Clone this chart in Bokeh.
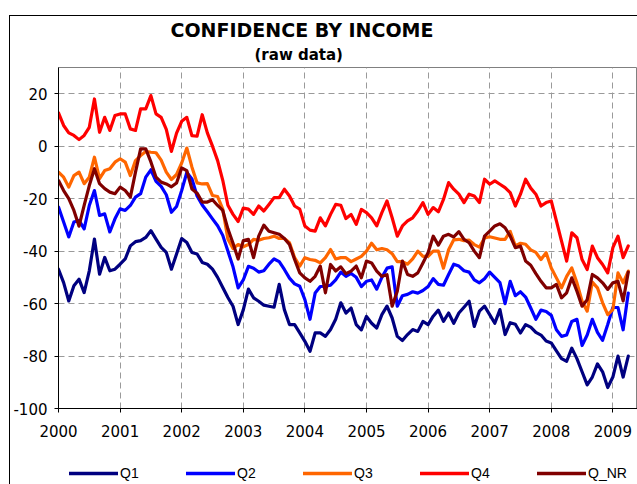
from bokeh.plotting import figure
from bokeh.layouts import column
from bokeh.models import Range1d, Legend, LegendItem, FixedTicker, Title, PrintfTickFormatter
from bokeh.embed import file_html
from bokeh.resources import INLINE

# ---- data (monthly, Jan 2000 .. Apr 2009) ----
months = [2000 + i / 12 for i in range(112)]

q1 = [-46.9, -52, -59, -53.2, -50.7, -55.8, -47.5, -35.4, -48.8, -42.4, -47.5, -46.9,
      -45, -43, -38, -36.4, -36, -34.8, -32.2, -35.4, -38.6, -40.5, -46.9, -41.1,
      -35.2, -36.7, -40.5, -41.1, -44.3, -45, -46.9, -50, -53.9, -57.7, -61, -68,
      -62.4, -54.5, -57.8, -59.1, -60.6, -61, -61.4, -52.7, -62.3, -68, -68, -71.2,
      -74.4, -78.2, -71.2, -71.2, -72.5, -69.9, -66, -59.7, -63.6, -61.7, -68, -70,
      -64.9, -67.5, -69.3, -64.2, -61, -65.5, -72.5, -74.1, -71.8, -69.9, -70.6, -66.8,
      -68, -64.8, -62.5, -66.8, -63.6, -67.5, -63.6, -61.4, -59.1, -68.7, -62.9, -61,
      -64.2, -67.5, -62.3, -71.8, -67.3, -67.9, -71.2, -68, -69, -71, -72, -74.3,
      -75, -78, -81, -82, -77, -81, -86, -91, -88, -83, -86, -92,
      -88, -80, -88, -80]

q2 = [-23.2, -28.9, -34.6, -28.9, -28.3, -31.5, -22.6, -16.9, -26.4, -25.8, -32.7, -27.7,
      -23.9, -24.5, -22.6, -19.4, -18.1, -11.8, -9, -13.4, -15.3, -18.5, -25.2, -23,
      -16.9, -10, -12.5, -19, -22.4, -25, -27.7, -30.3, -34, -40, -46, -54,
      -51, -45.8, -46.5, -48, -47.5, -45, -43, -44, -47, -50.3, -52.5, -53.4,
      -58.5, -66, -56, -53.5, -53.4, -53, -51, -48, -49.6, -48.5, -50, -53.5,
      -51.5, -51, -54.5, -50, -46.5, -46, -61, -57, -56.5, -55.5, -56, -55,
      -53.5, -50.5, -52.7, -53, -48.9, -45, -45.7, -47.5, -48, -51, -52.1, -50.5,
      -48, -50, -52, -60, -51.5, -57, -55.5, -57.5, -61.7, -66, -62.5, -63,
      -64.5, -70, -72.5, -72, -66.8, -66, -76, -72, -66, -71, -74, -68,
      -61.5, -61.5, -70, -56]

q3 = [-9.9, -11.8, -15.6, -11.2, -9.9, -14.3, -11.8, -4.2, -12.4, -9.3, -8.6, -6.1,
      -4.8, -6.1, -11.2, -5.5, -3.6, -2, -2.3, -2.5, -5.3, -9.9, -12.7, -10.8,
      -6.4, -0.7, -8, -14, -14.4, -14.3, -18.8, -19.2, -24, -35.4, -39, -37.5,
      -38.3, -37.5, -35.5, -35.9, -35.2, -34.9, -34.3, -35.2, -35.2, -36.8, -42.5, -45.7,
      -42.5, -43.2, -43.5, -44.5, -42.5, -39.4, -43, -42.5, -42.5, -44, -43, -42,
      -40, -37, -39.5, -39, -39.5, -41, -44, -44, -45, -43, -40, -42,
      -42, -40, -40, -46.5, -39.5, -35.7, -35.5, -36, -35.8, -37.5, -38.5, -35,
      -34.5, -35, -35.5, -35.5, -32.5, -38, -37, -37.4, -39.5, -40.5, -43.2, -40.6,
      -46.4, -50.2, -54, -49.6, -46.4, -52.1, -59.1, -62.9, -51.8, -54, -59.7, -64.2,
      -62.3, -48.3, -52.1, -47.6]

q4 = [12.7, 7.9, 5.1, 4.1, 2.5, 4.1, 7.2, 18, 5.3, 11, 6, 11.7,
      12.3, 12.3, 6.6, 6, 14.2, 14.2, 19.3, 12.3, 11, 6.4, -2, 5,
      9.5, 11, 4, 3.8, 12, 5.1, 0, -5.5, -13, -22.5, -26, -28.7,
      -23.6, -24, -26, -22.8, -24.7, -22.2, -19.6, -19.6, -16.4, -19, -22.8, -24,
      -30.4, -32, -32.4, -27.3, -30.4, -26, -22.2, -22.5, -27.6, -26, -29.8, -24.1,
      -25.3, -27.3, -30.4, -25.3, -20.9, -27.3, -34.3, -30.4, -28.5, -27.3, -24.7, -21.5,
      -26, -23.4, -25, -20.3, -13.9, -16.4, -18.3, -21.5, -18.3, -19, -21.5, -12.6,
      -14.5, -13.2, -14.5, -15.8, -17.7, -22.8, -18.3, -12.6, -16, -18.3, -22.8, -21.5,
      -20.9, -28.5, -36.2, -43.8, -33, -34.9, -43.2, -47, -38.1, -42.5, -45.1, -48.3,
      -38.7, -34.3, -42.5, -38]

qnr = [-13.1, -16.9, -20, -24.5, -30.5, -22.6, -15, -8.6, -14.3, -16.2, -17.5, -18.1,
       -15.6, -16.9, -19.4, -9.9, -1, -1, -6, -11.8, -13.7, -14.4, -15.5, -14,
       -8.3, -9.3, -16.3, -17.9, -21.3, -21.3, -20.4, -22.6, -24.5, -31.5, -37, -43,
       -36, -35.5, -42.5, -34.3, -30.1, -32.4, -33, -33.6, -35.2, -37.5, -43.2, -48.3,
       -50.2, -51.5, -49.6, -45.7, -55.9, -45.1, -47.6, -46, -48.6, -47.6, -45.7, -50.2,
       -43.8, -44.5, -47.6, -49.6, -49, -61, -55.3, -43.8, -48.9, -49.6, -48.3, -44.5,
       -40.6, -34.3, -37.7, -34.3, -33.6, -34.6, -32.6, -35.5, -36.8, -40, -42.5, -34.3,
       -32.4, -30.4, -29.6, -31.1, -34.3, -38.7, -38.1, -43.8, -45.4, -48.6, -51.5, -54,
       -54, -52.7, -57.8, -55.9, -50.2, -55.3, -61, -58.5, -48.9, -50.2, -52.1, -54.6,
       -52.1, -51.5, -59, -48]

series_names = ["Q1", "Q2", "Q3", "Q4", "Q_NR"]
series_values = [q1, q2, q3, q4, qnr]
series_colors = ["#000080", "#0000FF", "#FF6600", "#FF0000", "#800000"]

year_ticks = [2000, 2001, 2002, 2003, 2004, 2005, 2006, 2007, 2008, 2009]
value_ticks = [-100, -80, -60, -40, -20, 0, 20]

title_text = "CONFIDENCE BY INCOME"
subtitle_text = "(raw data)"

FONT = "DejaVu Sans"

# ---------------- main chart ----------------
p = figure(frame_width=579, frame_height=341,
           x_range=Range1d(2000, 2009.4), y_range=Range1d(-100, 30),
           output_backend="svg", toolbar_location=None,
           min_border_left=48, min_border_right=0,
           min_border_top=50, min_border_bottom=40)
p.background_fill_color = "white"
p.border_fill_color = "white"
p.outline_line_color = "#808080"
p.outline_line_width = 1

p.xaxis.ticker = FixedTicker(ticks=year_ticks)
p.yaxis.ticker = FixedTicker(ticks=value_ticks)
p.yaxis.formatter = PrintfTickFormatter(format="%d")
p.xaxis.formatter = PrintfTickFormatter(format="%d")
for ax in (p.xaxis[0], p.yaxis[0]):
    ax.axis_line_color = "#000000"
    ax.axis_line_width = 1
    ax.major_tick_line_color = "#000000"
    ax.major_tick_in = 0
    ax.major_tick_out = 4
    ax.minor_tick_line_color = None
    ax.major_label_text_font = FONT
    ax.major_label_text_font_size = "15px"
    ax.major_label_text_color = "#000000"
p.xaxis.major_label_standoff = 12
p.yaxis.major_label_standoff = 7

p.xgrid.ticker = FixedTicker(ticks=year_ticks)
p.ygrid.ticker = FixedTicker(ticks=value_ticks)
for g in (p.xgrid[0], p.ygrid[0]):
    g.grid_line_color = "#9a9a9a"
    g.grid_line_dash = "6 4"
    g.grid_line_width = 1

for name, vals, col in zip(series_names, series_values, series_colors):
    p.line(months, vals, line_color=col, line_width=3.2, line_join="round",
           line_cap="round")

p.add_layout(Title(text=subtitle_text, align="left", offset=196, standoff=7,
                   text_font=FONT, text_font_style="bold", text_font_size="15px",
                   text_color="#000000"), "above")
p.add_layout(Title(text=title_text, align="left", offset=112, standoff=0,
                   text_font=FONT, text_font_style="bold", text_font_size="19px",
                   text_color="#000000"), "above")

# ---------------- legend strip (same series, drawn out of view) ----------------
lg = figure(width=627, height=37, output_backend="svg", toolbar_location=None,
            x_axis_type=None, y_axis_type=None,
            x_range=Range1d(0, 1), y_range=Range1d(0, 1),
            min_border=0, min_border_left=0, min_border_right=0,
            min_border_top=0, min_border_bottom=0)
lg.grid.visible = False
lg.outline_line_color = None
lg.background_fill_color = "white"
lg.border_fill_color = "white"
items = []
for name, vals, col in zip(series_names, series_values, series_colors):
    r = lg.line(months, vals, line_color=col, line_width=3.6, line_cap="round")
    items.append(LegendItem(label=name, renderers=[r]))
legend = Legend(items=items, orientation="horizontal", location=(11, 2),
                glyph_width=49, glyph_height=20, label_height=20, label_standoff=2,
                spacing=46, padding=0, margin=0,
                border_line_color=None, background_fill_alpha=0,
                label_text_font="Liberation Sans", label_text_font_size="14px",
                label_text_color="#000000")
lg.add_layout(legend, "center")

layout = column(p, lg, spacing=0)
layout.styles = {"border-left": "1px solid #000000", "border-top": "1px solid #000000",
                 "margin-left": "9px", "margin-top": "15px"}

open("out.html", "w").write(file_html(layout, INLINE))
